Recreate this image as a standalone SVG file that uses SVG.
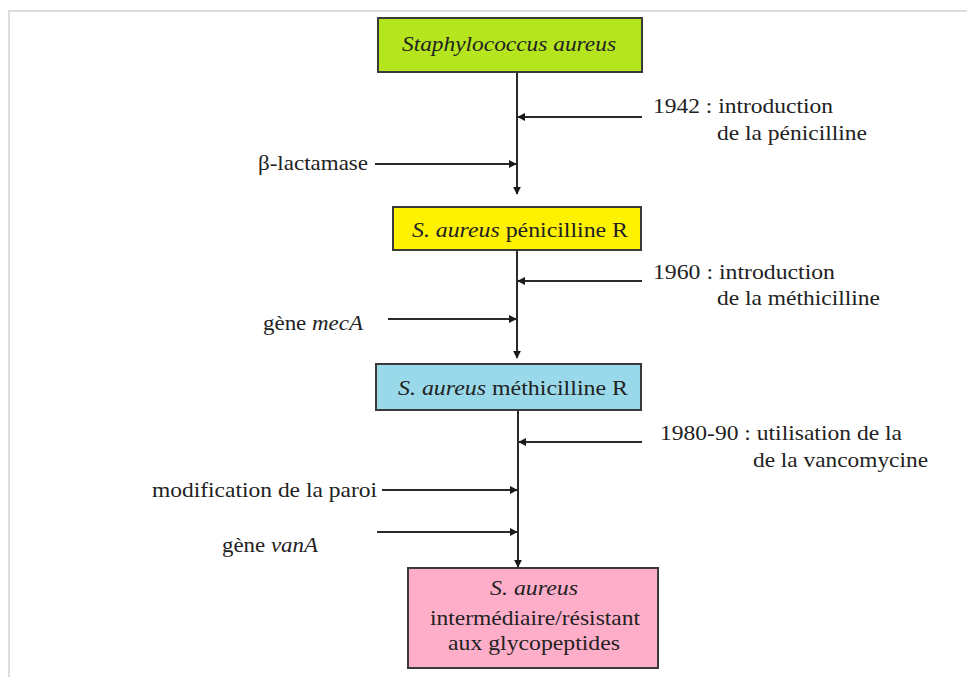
<svg xmlns="http://www.w3.org/2000/svg" width="967" height="677" viewBox="0 0 967 677">
<style>
.box{stroke:#3a3a3a;stroke-width:2}
.t{font-family:'Times New Roman',Times,'Liberation Serif',Tinos,'Nimbus Roman',serif;font-size:21px;fill:#222}
.i{font-style:italic}
.ln{stroke:#2a2a2a;stroke-width:2;fill:none}
.fr{stroke:#dcdcdc;stroke-width:2;fill:none}
</style>
<defs>
<marker id="ah" viewBox="0 0 10 10" refX="9" refY="5" markerWidth="4" markerHeight="4" orient="auto" markerUnits="strokeWidth">
<path d="M0,0 L10,5 L0,10 z" fill="#1a1a1a"/>
</marker>
</defs>
<rect width="967" height="677" fill="#ffffff"/>
<path class="fr" d="M9,677 V11 H967"/>

<g id="connectors">
<line class="ln" x1="517" y1="72" x2="517" y2="194" marker-end="url(#ah)"/>
<line class="ln" x1="642" y1="117" x2="518" y2="117" marker-end="url(#ah)"/>
<line class="ln" x1="375" y1="164" x2="516" y2="164" marker-end="url(#ah)"/>
<line class="ln" x1="517" y1="250" x2="517" y2="358" marker-end="url(#ah)"/>
<line class="ln" x1="642" y1="281" x2="518" y2="281" marker-end="url(#ah)"/>
<line class="ln" x1="388" y1="319" x2="516" y2="319" marker-end="url(#ah)"/>
<line class="ln" x1="518" y1="410" x2="518" y2="567" marker-end="url(#ah)"/>
<line class="ln" x1="642" y1="442" x2="519" y2="442" marker-end="url(#ah)"/>
<line class="ln" x1="382" y1="490" x2="517" y2="490" marker-end="url(#ah)"/>
<line class="ln" x1="377" y1="532" x2="517" y2="532" marker-end="url(#ah)"/>
</g>

<g id="n1">
<rect class="box" x="378" y="18" width="264" height="54" fill="#b5e61d"/>
<text class="t i" x="402" y="51" textLength="214" lengthAdjust="spacingAndGlyphs">Staphylococcus aureus</text>
</g>
<g id="n2">
<rect class="box" x="393" y="207" width="248" height="43" fill="#fff200"/>
<text class="t" x="412" y="237" textLength="216" lengthAdjust="spacingAndGlyphs"><tspan class="i">S. aureus</tspan> pénicilline R</text>
</g>
<g id="n3">
<rect class="box" x="376" y="364" width="265" height="46" fill="#99d9ea"/>
<text class="t" x="398" y="395" textLength="230" lengthAdjust="spacingAndGlyphs"><tspan class="i">S. aureus</tspan> méthicilline R</text>
</g>
<g id="n4">
<rect class="box" x="408" y="568" width="250" height="100" fill="#ffaec9"/>
<text class="t i" x="534" y="595" textLength="88" lengthAdjust="spacingAndGlyphs" text-anchor="middle">S. aureus</text>
<text class="t" x="430" y="625" textLength="210" lengthAdjust="spacingAndGlyphs">intermédiaire/résistant</text>
<text class="t" x="448" y="650" textLength="172" lengthAdjust="spacingAndGlyphs">aux glycopeptides</text>
</g>

<g id="l1942">
<text class="t" x="653" y="113" textLength="180" lengthAdjust="spacingAndGlyphs">1942 : introduction</text>
<text class="t" x="717" y="140" textLength="150" lengthAdjust="spacingAndGlyphs">de la pénicilline</text>
</g>
<g id="lbeta">
<text class="t" x="258" y="170" textLength="110" lengthAdjust="spacingAndGlyphs">β-lactamase</text>
</g>
<g id="l1960">
<text class="t" x="653" y="279" textLength="182" lengthAdjust="spacingAndGlyphs">1960 : introduction</text>
<text class="t" x="717" y="305" textLength="163" lengthAdjust="spacingAndGlyphs">de la méthicilline</text>
</g>
<g id="lmeca">
<text class="t" x="263" y="330" textLength="100" lengthAdjust="spacingAndGlyphs">gène <tspan class="i">mecA</tspan></text>
</g>
<g id="l1980">
<text class="t" x="660" y="440" textLength="242" lengthAdjust="spacingAndGlyphs">1980-90 : utilisation de la</text>
<text class="t" x="753" y="467" textLength="175" lengthAdjust="spacingAndGlyphs">de la vancomycine</text>
</g>
<g id="lparoi">
<text class="t" x="152" y="497" textLength="225" lengthAdjust="spacingAndGlyphs">modification de la paroi</text>
</g>
<g id="lvana">
<text class="t" x="222" y="552" textLength="96" lengthAdjust="spacingAndGlyphs">gène <tspan class="i">vanA</tspan></text>
</g>
</svg>
